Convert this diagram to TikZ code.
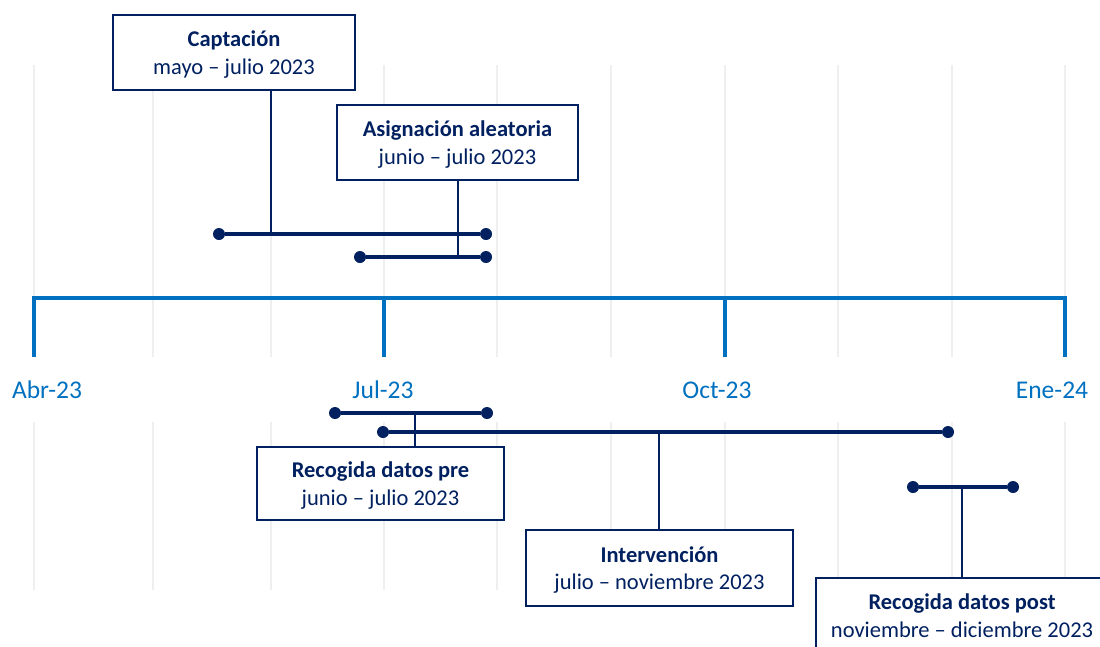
\documentclass[tikz,border=0pt]{standalone}
\usepackage{fontspec}
\setmainfont{Carlito}
\definecolor{navy}{HTML}{002060}
\definecolor{axisblue}{HTML}{0070C0}
\definecolor{gridgray}{HTML}{EFEFEF}

\begin{document}
\begin{tikzpicture}
  [x=1pt, y=-1pt,
   grid/.style={draw=gridgray, line width=2.5pt},
   axis/.style={draw=axisblue, line width=4pt, line join=miter},
   month/.style={text=axisblue, font=\fontsize{25.5}{30}\selectfont},
   phase/.style={draw=navy, line width=2.5pt, fill=white, text=navy, align=center,
                 inner sep=0pt, text depth=0pt, font=\fontsize{22.5}{27.5}\selectfont},
   dot/.style={circle, fill=navy, inner sep=0pt, minimum size=12pt},
   bar/.style={draw=navy, line width=4pt},
   link/.style={draw=navy, line width=1.5pt}]
  \useasboundingbox (0,0) rectangle (1100,646);
  \clip (0,0) rectangle (1100,646);

  % monthly grid
  \foreach \x in {34,153,271,384,497,611,725,838,952,1065} {
    \draw[grid] (\x,65) -- (\x,357);
    \draw[grid] (\x,422) -- (\x,590);
  }

  % time axis
  \draw[axis] (34,357) -- (34,298) -- (1065,298) -- (1065,357);
  \draw[axis] (384,298) -- (384,357);
  \draw[axis] (725,298) -- (725,357);
  \node[month] (abr) at (47,390) {Abr-23};
  \node[month] (jul) at (383,390) {Jul-23};
  \node[month] (oct) at (717,390) {Oct-23};
  \node[month] (ene) at (1052,390) {Ene-24};

  % phase bars
  \node[dot] (caps) at (219,234) {};
  \node[dot] (cape) at (486,234) {};
  \coordinate (capj) at (271,234);
  \node[dot] (asigs) at (360,257) {};
  \node[dot] (asige) at (486,257) {};
  \coordinate (asigj) at (458,257);
  \node[dot] (pres) at (335,413) {};
  \node[dot] (pree) at (487,413) {};
  \coordinate (prej) at (415,413);
  \node[dot] (intervs) at (383,432) {};
  \node[dot] (interve) at (948,432) {};
  \coordinate (intervj) at (659,432);
  \node[dot] (posts) at (913,487) {};
  \node[dot] (poste) at (1013,487) {};
  \coordinate (postj) at (962,487);

  \draw[bar] (caps) -- (cape);
  \draw[bar] (asigs) -- (asige);
  \draw[bar] (pres) -- (pree);
  \draw[bar] (intervs) -- (interve);
  \draw[bar] (posts) -- (poste);

  % labels
  \node[phase, minimum width=242pt, minimum height=75pt] (cap) at (234,52.5)
    {\textbf{Captación}\\mayo -- julio 2023};
  \node[phase, minimum width=241pt, minimum height=75pt] (asig) at (457.5,142.5)
    {\textbf{Asignación aleatoria}\\junio -- julio 2023};
  \node[phase, minimum width=247pt, minimum height=73pt] (pre) at (380.5,483.5)
    {\textbf{Recogida datos pre}\\junio -- julio 2023};
  \node[phase, minimum width=267pt, minimum height=76pt] (interv) at (659.5,568)
    {\textbf{Intervención}\\julio -- noviembre 2023};
  \node[phase, minimum width=292pt, minimum height=75pt] (post) at (962,615.5)
    {\textbf{Recogida datos post}\\noviembre -- diciembre 2023};

  \draw[link] (capj) -- (capj |- cap.south);
  \draw[link] (asigj) -- (asigj |- asig.south);
  \draw[link] (prej) -- (prej |- pre.north);
  \draw[link] (intervj) -- (intervj |- interv.north);
  \draw[link] (postj) -- (postj |- post.north);
\end{tikzpicture}
\end{document}
